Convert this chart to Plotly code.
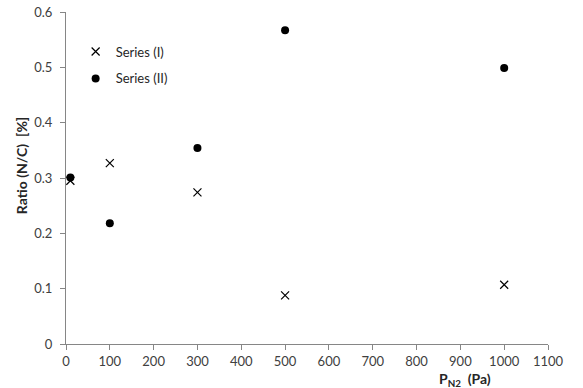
import plotly.graph_objects as go

x_vals = [10, 100, 300, 500, 1000]
series_1 = [0.295, 0.327, 0.274, 0.088, 0.107]
series_2 = [0.301, 0.218, 0.354, 0.567, 0.499]
names = ["Series (I)", "Series (II)"]
x_ticks = list(range(0, 1101, 100))
y_ticks = [0, 0.1, 0.2, 0.3, 0.4, 0.5, 0.6]

fig = go.Figure()
fig.add_trace(go.Scatter(x=x_vals, y=series_1, mode="markers", name=names[0],
                         legendgroup="a",
                         marker=dict(symbol="x-thin-open", size=8, color="black",
                                     line=dict(width=1.2, color="black"))))
fig.add_trace(go.Scatter(x=x_vals, y=series_2, mode="markers", name=names[1],
                         legendgroup="b",
                         marker=dict(symbol="circle", size=8, color="black")))

font = "Lato, 'Open Sans', sans-serif"
fig.update_layout(
    width=583, height=388,
    margin=dict(l=66, r=35, t=12, b=44, autoexpand=False),
    plot_bgcolor="white", paper_bgcolor="white",
    font=dict(family=font, size=13, color="#404040"),
    showlegend=True,
    legend=dict(x=0.02, y=0.926, xanchor="left", yanchor="top",
                bgcolor="rgba(0,0,0,0)", tracegroupgap=7,
                font=dict(size=13, color="#262626"), itemwidth=30),
    xaxis=dict(range=[0, 1100], tickvals=x_ticks, showgrid=False, zeroline=False,
               showline=True, linecolor="#868686", linewidth=1, automargin=False,
               ticks="outside", ticklen=5, tickcolor="#868686",
               ticklabeloverflow="allow"),
    yaxis=dict(range=[0, 0.6], tickvals=y_ticks, showgrid=False, zeroline=False,
               showline=True, linecolor="#868686", linewidth=1, automargin=False,
               ticks="outside", ticklen=5, tickcolor="#868686",
               ticklabelstandoff=5, ticklabeloverflow="allow"),
    annotations=[
        dict(text="<b>P<sub>N2</sub>  (Pa)</b>", xref="paper", yref="paper",
             x=0.828, y=-0.072, xanchor="center", yanchor="top", showarrow=False,
             font=dict(size=14, color="#262626")),
        dict(text="<b>Ratio (N/C)  [%]</b>", xref="paper", yref="paper",
             x=-0.093, y=0.536, xanchor="center", yanchor="middle", showarrow=False,
             textangle=-90, font=dict(size=14, color="#262626")),
    ],
)
fig.write_html("out.html", config={"displayModeBar": False},
               post_script="document.body.style.margin='0px';")
